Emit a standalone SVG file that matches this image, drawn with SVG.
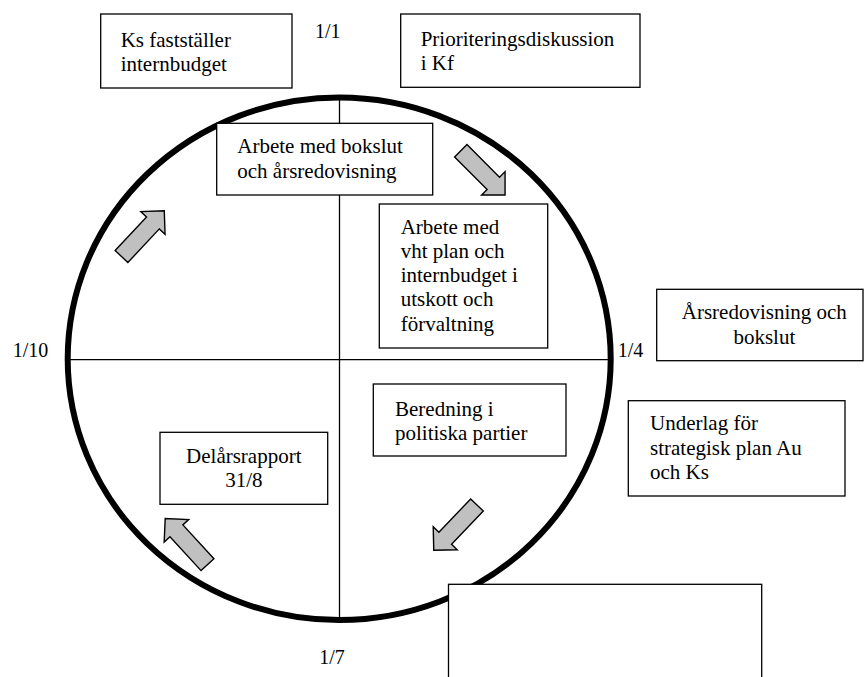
<svg xmlns="http://www.w3.org/2000/svg" width="864" height="677" viewBox="0 0 864 677">
<defs>
<style>
.bg{fill:#ffffff}
.ring{fill:none;stroke:#000;stroke-width:6}
.axis{stroke:#000;stroke-width:1.3;fill:none}
.box{fill:#ffffff;stroke:#000;stroke-width:1.3}
.t{font-family:"Liberation Serif","Times New Roman",serif;font-size:21px;fill:#000}
.lbl{font-family:"Liberation Serif","Times New Roman",serif;font-size:20px;fill:#000}
.mid{text-anchor:middle}
.arr{fill:#c0c0c0;stroke:#000;stroke-width:1.4;stroke-linejoin:miter}
</style>
<path id="blk" d="M0,-8.75 L46,-8.75 L46,-16.6 L62.6,0 L46,16.6 L46,8.75 L0,8.75 Z"/>
</defs>
<rect class="bg" x="0" y="0" width="864" height="677"/>

<g id="cycle">
<ellipse class="ring" cx="339.2" cy="358.8" rx="271.5" ry="261.3"/>
<line class="axis" x1="339.5" y1="97.5" x2="339.5" y2="620"/>
<line class="axis" x1="67.7" y1="359.6" x2="610.7" y2="359.6"/>
</g>

<g id="labels">
<text class="lbl" x="315" y="38">1/1</text>
<text class="lbl" x="12.7" y="357.3">1/10</text>
<text class="lbl" x="617.7" y="357.3">1/4</text>
<text class="lbl" x="319.3" y="664">1/7</text>
</g>

<g id="node-ks">
<rect class="box" x="100.7" y="14" width="191.3" height="74"/>
<text class="t" x="120.7" y="46.7">Ks fastställer</text>
<text class="t" x="120.7" y="70.7">internbudget</text>
</g>

<g id="node-prio">
<rect class="box" x="400.7" y="14" width="239.3" height="73.3"/>
<text class="t" x="420.7" y="46.2">Prioriteringsdiskussion</text>
<text class="t" x="420.7" y="70.3">i Kf</text>
</g>

<g id="node-bokslut">
<rect class="box" x="216.7" y="123.3" width="216" height="71.7"/>
<text class="t" x="237.3" y="153.3">Arbete med bokslut</text>
<text class="t" x="237.3" y="177.7">och årsredovisning</text>
</g>

<g id="node-vht">
<rect class="box" x="379.3" y="204" width="168.4" height="144"/>
<text class="t" x="400.7" y="233.5">Arbete med</text>
<text class="t" x="400.7" y="257.8">vht plan och</text>
<text class="t" x="400.7" y="282.1">internbudget i</text>
<text class="t" x="400.7" y="306.4">utskott och</text>
<text class="t" x="400.7" y="330.7">förvaltning</text>
</g>

<g id="node-arsred">
<rect class="box" x="656.7" y="289.3" width="206.3" height="71.4"/>
<text class="t mid" x="764.3" y="319.3">Årsredovisning och</text>
<text class="t mid" x="764.3" y="344">bokslut</text>
</g>

<g id="node-beredning">
<rect class="box" x="373.3" y="384" width="192.7" height="72"/>
<text class="t" x="395" y="415.5">Beredning i</text>
<text class="t" x="395" y="439.5">politiska partier</text>
</g>

<g id="node-underlag">
<rect class="box" x="628.3" y="400.7" width="216.7" height="95.3"/>
<text class="t" x="650" y="430">Underlag för</text>
<text class="t" x="650" y="454.5">strategisk plan Au</text>
<text class="t" x="650" y="479">och Ks</text>
</g>

<g id="node-delars">
<rect class="box" x="160" y="432.3" width="167.7" height="72"/>
<text class="t mid" x="243.8" y="463.3">Delårsrapport</text>
<text class="t mid" x="243.8" y="486.7">31/8</text>
</g>

<g id="node-empty">
<rect class="box" x="448.5" y="584.3" width="313.2" height="100"/>
</g>

<g id="connectors">
<use href="#blk" class="arr" transform="translate(121.5,256.5) rotate(-46.9)"/>
<use href="#blk" class="arr" transform="translate(460.8,150.8) rotate(45)"/>
<use href="#blk" class="arr" transform="translate(477,505) rotate(133.7)"/>
<use href="#blk" class="arr" transform="translate(207.5,564.7) rotate(-132.5)"/>
</g>
</svg>
